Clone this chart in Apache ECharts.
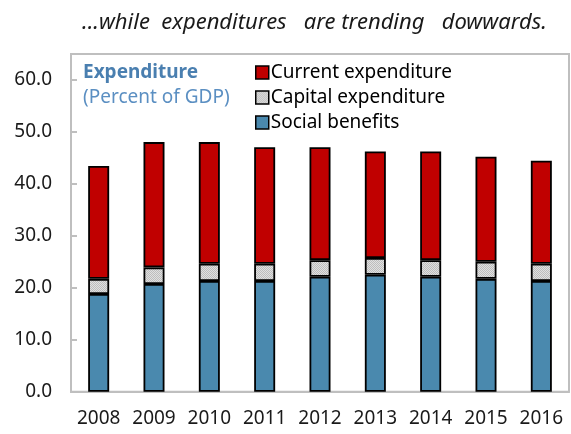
<!DOCTYPE html>
<html>
<head>
<meta charset="utf-8">
<script src="https://cdn.jsdelivr.net/npm/echarts@6/dist/echarts.min.js"></script>
<style>
  html, body { margin: 0; padding: 0; background: #fff; }
  #container { width: 571px; height: 434px; }
</style>
</head>
<body>
<div id="container"></div>
<script>
var years = ['2008', '2009', '2010', '2011', '2012', '2013', '2014', '2015', '2016'];
var socialBenefits = [18.8, 20.7, 21.3, 21.3, 22.1, 22.5, 22.1, 21.7, 21.3];
var capitalExp = [2.9, 3.2, 3.3, 3.3, 3.2, 3.2, 3.2, 3.3, 3.3];
var currentExp = [21.7, 24.1, 23.4, 22.4, 21.7, 20.5, 20.9, 20.2, 19.8];

// small dither pattern for the capital expenditure bars
function makePattern() {
    var c = document.createElement('canvas');
    c.width = 2; c.height = 2;
    var ctx = c.getContext('2d');
    ctx.fillStyle = '#e0e0e0';
    ctx.fillRect(0, 0, 2, 2);
    ctx.fillStyle = '#bdbdbd';
    ctx.fillRect(0, 0, 1, 1);
    ctx.fillRect(1, 1, 1, 1);
    return c;
}

var dom = document.getElementById('container');
var myChart = echarts.init(dom, null, {renderer: 'canvas'});
var font = '"Noto Sans", sans-serif';
var frameColor = '#bfbfbf';

var barStyle = function (color) {
    return { color: color, borderColor: '#000', borderWidth: 1.8 };
};

var option = {
    animation: false,
    title: {
        text: '...while  expenditures   are trending   dowwards.',
        left: 77,
        top: 7,
        textStyle: { fontFamily: font, fontSize: 22, fontStyle: 'italic', fontWeight: 'normal', color: '#1a1a1a' }
    },
    grid: { left: 71, right: 2, top: 79.7, bottom: 42.3, containLabel: false },
    legend: {
        orient: 'vertical',
        left: 250,
        top: 58,
        icon: 'rect',
        itemWidth: 13,
        itemHeight: 13,
        itemGap: 6,
        data: ['Current expenditure', 'Capital expenditure', 'Social benefits'],
        itemStyle: { borderColor: '#000', borderWidth: 1.5 },
        textStyle: { fontFamily: font, fontSize: 19, color: '#000', padding: [0, 0, 0, -3] }
    },
    graphic: [
        {
            type: 'rect', z: -1, silent: true,
            shape: { x: 71, y: 54, width: 498, height: 337.7 },
            style: { fill: 'none', stroke: frameColor, lineWidth: 2 }
        },
        {
            type: 'text', left: 83, top: 63,
            style: { text: 'Expenditure', font: 'bold 19px "Noto Sans", sans-serif', fill: '#4a7fb0' }
        },
        {
            type: 'text', left: 83, top: 88,
            style: { text: '(Percent of GDP)', font: '19px "Noto Sans", sans-serif', fill: '#5b8fc2' }
        }
    ],
    xAxis: {
        type: 'category',
        data: years,
        axisLine: { lineStyle: { color: frameColor, width: 2 } },
        axisTick: { inside: true, length: 5, lineStyle: { color: frameColor, width: 2 } },
        axisLabel: { fontFamily: font, fontSize: 19, color: '#1a1a1a', margin: 17, interval: 0, hideOverlap: false }
    },
    yAxis: {
        type: 'value',
        min: 0,
        max: 60,
        interval: 10,
        splitLine: { show: false },
        axisLine: { show: true, lineStyle: { color: frameColor, width: 2 } },
        axisTick: { show: true, inside: true, length: 6, lineStyle: { color: frameColor, width: 2 } },
        axisLabel: {
            fontFamily: font, fontSize: 19, color: '#1a1a1a', margin: 19,
            formatter: function (v) { return v.toFixed(1); }
        }
    },
    series: [
        {
            name: 'Social benefits', type: 'bar', stack: 'exp', barWidth: 21,
            itemStyle: barStyle('#4a89ae'),
            data: socialBenefits
        },
        {
            name: 'Capital expenditure', type: 'bar', stack: 'exp', barWidth: 21,
            itemStyle: barStyle({ image: makePattern(), repeat: 'repeat' }),
            data: capitalExp
        },
        {
            name: 'Current expenditure', type: 'bar', stack: 'exp', barWidth: 21,
            itemStyle: barStyle('#c00000'),
            data: currentExp
        }
    ]
};
myChart.setOption(option, true);
</script>
</body>
</html>
